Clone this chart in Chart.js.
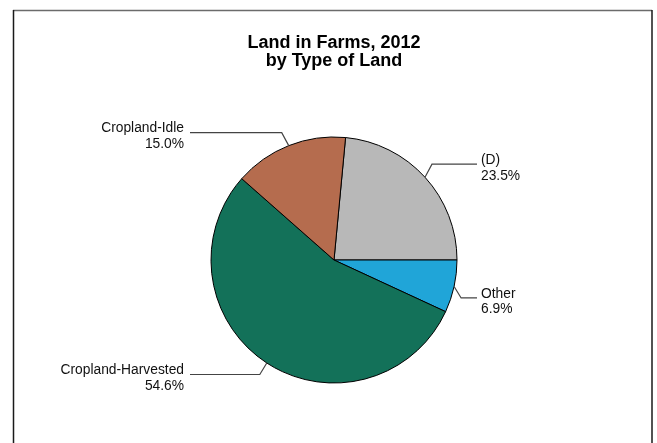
<!DOCTYPE html>
<html>
<head>
<meta charset="utf-8">
<script src="https://cdn.jsdelivr.net/npm/chart.js@4/dist/chart.umd.min.js"></script>
<style>
  html, body { margin: 0; padding: 0; background: #fff; }
  #chart { display: block; }
</style>
</head>
<body>
<canvas id="chart" width="657" height="443"></canvas>
<script>
const titleLines = ['Land in Farms, 2012', 'by Type of Land'];
const categories = ['(D)', 'Other', 'Cropland-Harvested', 'Cropland-Idle'];
const shares = [23.5, 6.9, 54.6, 15.0];
const sliceColors = ['#b8b8b8', '#20a5d8', '#137159', '#b56c4e'];

const fontFamily = '"Liberation Sans", Arial, Helvetica, sans-serif';

// frame around the chart (top, left and right edges only, bottom is cut off)
const framePlugin = {
    id: 'frame',
    beforeDraw(chart) {
        const ctx = chart.ctx;
        ctx.save();
        ctx.lineWidth = 1.5;
        ctx.strokeStyle = '#6b6b6b';
        ctx.beginPath();
        ctx.moveTo(13, 10.5);
        ctx.lineTo(652, 10.5);
        ctx.stroke();
        ctx.strokeStyle = '#1a1a1a';
        ctx.beginPath();
        ctx.moveTo(13.5, 10);
        ctx.lineTo(13.5, chart.height);
        ctx.moveTo(652, 10);
        ctx.lineTo(652, chart.height);
        ctx.stroke();
        ctx.restore();
    }
};

// category name + percent with an elbow leader line
const leaderLabels = {
    id: 'leaderLabels',
    afterDatasetsDraw(chart) {
        const ctx = chart.ctx;
        const meta = chart.getDatasetMeta(0);
        ctx.save();
        ctx.font = '13.8px ' + fontFamily;
        ctx.textBaseline = 'middle';
        meta.data.forEach((arc, i) => {
            const p = arc.getProps(['x', 'y', 'startAngle', 'endAngle', 'outerRadius'], true);
            const mid = (p.startAngle + p.endAngle) / 2;
            const cos = Math.cos(mid), sin = Math.sin(mid);
            const ex = p.x + cos * p.outerRadius;
            const ey = p.y + sin * p.outerRadius;
            const right = cos >= 0;
            const bx = ex + (right ? 7 : -7);
            const by = ey + (sin >= 0 ? 11.5 : -13);
            const hx = right ? p.x + 143 : p.x - 144;

            ctx.strokeStyle = '#444';
            ctx.lineWidth = 1.2;
            ctx.beginPath();
            ctx.moveTo(ex, ey);
            ctx.lineTo(bx, by);
            ctx.lineTo(hx, by);
            ctx.stroke();

            ctx.fillStyle = '#111';
            ctx.textAlign = right ? 'left' : 'right';
            const tx = right ? p.x + 147 : p.x - 150;
            ctx.fillText(categories[i], tx, by - 4);
            ctx.fillText(shares[i].toFixed(1) + '%', tx, by + 11.5);
        });
        ctx.restore();
    }
};

new Chart(document.getElementById('chart'), {
    type: 'pie',
    data: {
        labels: categories,
        datasets: [{
            data: shares,
            backgroundColor: sliceColors,
            borderColor: '#000',
            borderWidth: 1
        }]
    },
    options: {
        responsive: false,
        devicePixelRatio: 1,
        animation: false,
        // (D) ends exactly at 3 o'clock
        rotation: 90 - shares[0] * 3.6,
        layout: {
            padding: { top: 10, left: 100, right: 89, bottom: 59.5 }
        },
        plugins: {
            legend: { display: false },
            tooltip: { enabled: false },
            title: {
                display: true,
                text: titleLines,
                color: '#000',
                font: { family: fontFamily, size: 18, weight: 'bold', lineHeight: 1.0 },
                padding: { top: 24, bottom: 66.5 }
            }
        }
    },
    plugins: [framePlugin, leaderLabels]
});
</script>
</body>
</html>
